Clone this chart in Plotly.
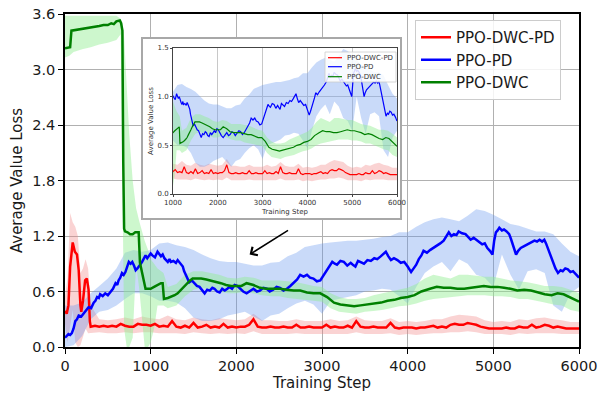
import plotly.graph_objects as go

# ---------------- data ----------------
X_TICKS = [0, 1000, 2000, 3000, 4000, 5000, 6000]
Y_TICKS = [0.0, 0.6, 1.2, 1.8, 2.4, 3.0, 3.6]
Y_TICK_TEXT = ["0.0", "0.6", "1.2", "1.8", "2.4", "3.0", "3.6"]
INSET_X_TICKS = [1000, 2000, 3000, 4000, 5000, 6000]
INSET_Y_TICKS = [0.0, 0.5, 1.0, 1.5]
INSET_Y_TICK_TEXT = ["0.0", "0.5", "1.0", "1.5"]

SERIES_NAMES = ["PPO-DWC-PD", "PPO-PD", "PPO-DWC"]

# PPO-DWC-PD (red)
RED_STEP = [0, 20, 40, 60, 90, 115, 140, 160, 180, 190, 210, 235, 255, 275, 290, 300] + list(range(350, 6001, 50))
RED_VAL = [0.39, 0.36, 0.45, 0.87, 1.13, 1.03, 1.00, 0.83, 0.45, 0.38, 0.50, 0.72, 0.74, 0.62, 0.28, 0.22,
           0.23, 0.22, 0.23, 0.22, 0.23, 0.22, 0.25, 0.23, 0.22, 0.22,
           0.25, 0.24, 0.24, 0.23, 0.25, 0.22, 0.23, 0.22, 0.28, 0.22,
           0.21, 0.23, 0.21, 0.26, 0.21, 0.22, 0.24, 0.21, 0.22, 0.21,
           0.25, 0.21, 0.22, 0.21, 0.22, 0.22, 0.24, 0.30, 0.22, 0.21,
           0.21, 0.22, 0.21, 0.21, 0.22, 0.21, 0.21, 0.24, 0.21, 0.21,
           0.22, 0.21, 0.21, 0.21, 0.24, 0.21, 0.22, 0.21, 0.21, 0.23,
           0.21, 0.28, 0.22, 0.21, 0.21, 0.22, 0.21, 0.21, 0.21, 0.26,
           0.21, 0.20, 0.21, 0.21, 0.21, 0.20, 0.21, 0.21, 0.22, 0.23,
           0.21, 0.22, 0.21, 0.24, 0.25, 0.24, 0.24, 0.26, 0.25, 0.24,
           0.22, 0.21, 0.20, 0.20, 0.20, 0.20, 0.21, 0.20, 0.20, 0.22,
           0.21, 0.21, 0.24, 0.21, 0.22, 0.24, 0.23, 0.21, 0.22, 0.21,
           0.20, 0.20, 0.20, 0.20]
RED_BAND_STEP = [0, 30, 60, 90, 120, 150, 180, 210, 240, 270, 300] + list(range(400, 6001, 100))
RED_UP = [0.55, 0.75, 1.45, 1.35, 1.30, 1.20, 0.80, 0.85, 0.95, 0.85, 0.45,
          0.30, 0.29, 0.30, 0.32, 0.30, 0.33, 0.31, 0.30, 0.34, 0.30,
          0.29, 0.32, 0.30, 0.29, 0.31, 0.30, 0.29, 0.30, 0.36, 0.29,
          0.29, 0.28, 0.28, 0.30, 0.28, 0.28, 0.28, 0.30, 0.28, 0.29,
          0.33, 0.29, 0.28, 0.28, 0.31, 0.27, 0.28, 0.27, 0.28, 0.30,
          0.30, 0.33, 0.35, 0.34, 0.33, 0.29, 0.27, 0.28, 0.27, 0.30,
          0.29, 0.31, 0.32, 0.30, 0.29, 0.27, 0.27]
RED_LO = [0.25, 0.05, 0.20, 0.40, 0.05, 0.00, 0.02, 0.10, 0.20, 0.15, 0.15,
          0.16, 0.15, 0.15, 0.16, 0.15, 0.16, 0.16, 0.15, 0.15, 0.15,
          0.14, 0.16, 0.15, 0.14, 0.15, 0.14, 0.15, 0.14, 0.17, 0.14,
          0.14, 0.14, 0.14, 0.15, 0.14, 0.14, 0.14, 0.14, 0.14, 0.14,
          0.16, 0.14, 0.14, 0.14, 0.15, 0.13, 0.14, 0.13, 0.14, 0.15,
          0.15, 0.16, 0.16, 0.17, 0.16, 0.14, 0.14, 0.14, 0.13, 0.15,
          0.14, 0.15, 0.15, 0.15, 0.14, 0.14, 0.14]

# PPO-PD (blue)
BLUE_STEP = [0, 20, 40, 60, 80, 100, 120, 140, 160, 190,
             215, 245, 275, 305, 335, 355, 375, 395, 410, 440,
             470, 500, 530, 560, 590, 610, 625, 645, 665, 685,
             705, 725, 745, 765, 785, 805, 825, 845, 865, 885,
             900, 920, 940, 960, 980, 1000, 1020, 1050, 1080, 1100,
             1120, 1140, 1160, 1180, 1200, 1220, 1235, 1265, 1295, 1315,
             1335, 1355, 1375, 1390, 1410, 1430, 1450, 1480, 1510, 1540,
             1570, 1600, 1630, 1660, 1690, 1720, 1745, 1775, 1805, 1835,
             1865, 1895, 1920, 1950, 1980, 2010, 2040, 2080, 2120, 2160,
             2200, 2240, 2275, 2315, 2355, 2390, 2430, 2470, 2510, 2550,
             2590, 2630, 2670, 2710, 2745, 2785, 2825, 2860, 2900, 2940,
             2980, 3020, 3060, 3090, 3120, 3150, 3175, 3215, 3255, 3295,
             3335, 3360, 3390, 3420, 3450, 3490, 3530, 3570, 3610, 3645,
             3685, 3715, 3745, 3775, 3805, 3840, 3880, 3920, 3960, 4000,
             4040, 4070, 4100, 4130, 4160, 4185, 4225, 4265, 4300, 4340,
             4380, 4420, 4450, 4480, 4510, 4540, 4570, 4595, 4635, 4675,
             4705, 4735, 4770, 4810, 4840, 4870, 4900, 4930, 4960, 4990,
             5010, 5030, 5050, 5070, 5100, 5125, 5155, 5185, 5205, 5225,
             5245, 5265, 5290, 5320, 5360, 5400, 5440, 5480, 5510, 5540,
             5570, 5595, 5615, 5635, 5665, 5695, 5725, 5755, 5785, 5810,
             5840, 5870, 5900, 5930, 5965, 6000]
BLUE_VAL = [0.10, 0.12, 0.14, 0.13, 0.15, 0.20, 0.28, 0.30, 0.34, 0.33,
            0.36, 0.40, 0.43, 0.42, 0.48, 0.50, 0.54, 0.53, 0.57, 0.55,
            0.58, 0.56, 0.59, 0.63, 0.69, 0.67, 0.72, 0.75, 0.80, 0.78,
            0.81, 0.86, 0.92, 0.90, 0.92, 0.88, 0.83, 0.85, 0.87, 0.90,
            0.92, 0.95, 0.99, 0.96, 0.98, 1.01, 0.99, 0.97, 1.03, 1.00,
            0.98, 1.00, 0.96, 0.94, 0.92, 0.95, 0.92, 0.93, 0.91, 0.94,
            0.92, 0.90, 0.87, 0.82, 0.78, 0.74, 0.70, 0.72, 0.69, 0.66,
            0.65, 0.61, 0.58, 0.62, 0.61, 0.64, 0.63, 0.60, 0.59, 0.63,
            0.61, 0.63, 0.65, 0.63, 0.67, 0.66, 0.63, 0.60, 0.58, 0.61,
            0.63, 0.60, 0.61, 0.64, 0.63, 0.60, 0.62, 0.65, 0.64, 0.61,
            0.63, 0.66, 0.70, 0.73, 0.78, 0.76, 0.78, 0.75, 0.74, 0.71,
            0.72, 0.78, 0.83, 0.87, 0.92, 0.90, 0.89, 0.93, 0.92, 0.88,
            0.91, 0.89, 0.87, 0.93, 0.92, 0.90, 0.94, 0.93, 0.96, 0.95,
            0.98, 1.00, 1.03, 0.98, 0.94, 0.96, 0.94, 0.91, 0.92, 0.87,
            0.81, 0.85, 0.89, 0.95, 0.99, 1.04, 1.02, 1.05, 1.07, 1.09,
            1.12, 1.15, 1.19, 1.24, 1.20, 1.22, 1.21, 1.25, 1.23, 1.22,
            1.19, 1.16, 1.18, 1.15, 1.13, 1.11, 1.12, 1.07, 1.04, 1.00,
            1.15, 1.24, 1.26, 1.29, 1.26, 1.27, 1.25, 1.22, 1.17, 1.11,
            1.05, 1.00, 1.04, 1.07, 1.09, 1.11, 1.13, 1.15, 1.14, 1.16,
            1.14, 1.16, 1.12, 1.07, 0.99, 0.91, 0.85, 0.80, 0.83, 0.82,
            0.85, 0.84, 0.81, 0.82, 0.79, 0.75]
BLUE_BAND_STEP = list(range(0, 6001, 100))
BLUE_UP = [0.45, 0.45, 0.48, 0.58, 0.66, 0.74, 0.85, 1.02, 1.05, 1.03,
           1.05, 1.12, 1.13, 1.10, 1.08, 1.05, 1.00, 0.96, 0.93, 0.92,
           0.92, 0.90, 0.88, 0.88, 0.91, 0.92, 0.98, 1.02, 1.08, 1.10,
           1.12, 1.13, 1.14, 1.15, 1.15, 1.16, 1.17, 1.19, 1.20, 1.24,
           1.24, 1.30, 1.35, 1.38, 1.40, 1.38, 1.36, 1.42, 1.49, 1.47,
           1.43, 1.38, 1.33, 1.31, 1.28, 1.25, 1.25, 1.22, 1.12, 1.03,
           0.98]
BLUE_LO = [0.00, 0.02, 0.12, 0.30, 0.38, 0.40, 0.45, 0.52, 0.58, 0.58,
           0.55, 0.50, 0.50, 0.48, 0.42, 0.32, 0.28, 0.28, 0.30, 0.34,
           0.36, 0.38, 0.33, 0.28, 0.34, 0.36, 0.42, 0.47, 0.50, 0.46,
           0.36, 0.50, 0.52, 0.54, 0.56, 0.60, 0.61, 0.63, 0.62, 0.55,
           0.47, 0.65, 0.80, 0.87, 0.92, 0.82, 0.95, 0.90, 0.78, 0.75,
           0.65, 1.00, 0.78, 0.62, 0.82, 0.84, 0.80, 0.45, 0.38, 0.58,
           0.65]

# PPO-DWC (green)
GREEN_STEP = [0, 60, 75, 150, 200, 250, 300, 350, 400, 450,
              500, 540, 570, 600, 640, 655, 670, 680, 690, 700,
              730, 760, 790, 820, 860, 875, 900, 920, 940, 970,
              1000, 1040, 1080, 1120, 1140, 1155, 1200, 1235, 1280, 1315,
              1345, 1375, 1400, 1430, 1460, 1490, 1540, 1590, 1650, 1700,
              1760, 1820, 1880, 1940, 2000, 2060, 2120, 2200, 2275, 2350,
              2430, 2510, 2590, 2670, 2745, 2825, 2900, 2980, 3060, 3140,
              3215, 3295, 3375, 3450, 3530, 3610, 3690, 3765, 3845, 3920,
              4000, 4080, 4160, 4260, 4340, 4420, 4500, 4580, 4660, 4740,
              4810, 4890, 4970, 5050, 5125, 5200, 5280, 5360, 5440, 5520,
              5600, 5680, 5750, 5820, 5870, 5940, 6000]
GREEN_VAL = [3.23, 3.24, 3.42, 3.43, 3.44, 3.45, 3.45, 3.46, 3.47, 3.48,
             3.48, 3.50, 3.49, 3.52, 3.53, 3.50, 3.42, 2.00, 1.28, 1.25,
             1.24, 1.22, 1.22, 1.24, 1.24, 0.91, 0.80, 0.72, 0.63, 0.63,
             0.63, 0.65, 0.67, 0.69, 0.69, 0.52, 0.53, 0.54, 0.56, 0.58,
             0.61, 0.63, 0.66, 0.69, 0.72, 0.74, 0.74, 0.74, 0.73, 0.72,
             0.71, 0.69, 0.67, 0.66, 0.66, 0.66, 0.69, 0.67, 0.64, 0.63,
             0.63, 0.63, 0.62, 0.61, 0.61, 0.59, 0.58, 0.58, 0.54, 0.48,
             0.46, 0.45, 0.44, 0.45, 0.46, 0.47, 0.48, 0.50, 0.51, 0.53,
             0.54, 0.56, 0.60, 0.63, 0.65, 0.64, 0.64, 0.63, 0.63, 0.64,
             0.65, 0.66, 0.65, 0.65, 0.64, 0.63, 0.61, 0.62, 0.61, 0.59,
             0.57, 0.56, 0.58, 0.57, 0.55, 0.52, 0.49]
GREEN_BAND_STEP = [0, 50, 100, 200, 300, 400, 500, 600, 650, 670, 690, 720, 750, 790, 830, 870,
                   900, 930, 970, 1000, 1040, 1080, 1150, 1200] + list(range(1300, 6001, 100))
GREEN_UP = [3.58, 3.58, 3.58, 3.58, 3.58, 3.58, 3.58, 3.58, 3.55, 3.50, 3.35, 2.80, 2.30, 1.80, 1.50, 1.35,
            1.25, 1.15, 1.05, 0.95, 0.90, 0.85, 0.80, 0.65,
            0.68, 0.78, 0.82, 0.82, 0.80, 0.78, 0.75, 0.74, 0.76, 0.75,
            0.72, 0.72, 0.72, 0.71, 0.70, 0.68, 0.66, 0.65, 0.58, 0.54,
            0.52, 0.52, 0.53, 0.56, 0.58, 0.60, 0.62, 0.64, 0.68, 0.74,
            0.78, 0.76, 0.74, 0.78, 0.78, 0.77, 0.76, 0.76, 0.74, 0.72,
            0.71, 0.70, 0.68, 0.66, 0.66, 0.65, 0.62, 0.58]
GREEN_LO = [3.13, 3.15, 3.19, 3.22, 3.24, 3.27, 3.29, 3.32, 3.38, 2.00, 0.20, 0.00, 0.00, 0.10, 0.90, 0.60,
            0.30, 0.00, 0.00, 0.05, 0.20, 0.45, 0.45, 0.42,
            0.45, 0.55, 0.62, 0.64, 0.62, 0.60, 0.58, 0.58, 0.60, 0.58,
            0.56, 0.55, 0.55, 0.53, 0.52, 0.51, 0.50, 0.49, 0.42, 0.38,
            0.37, 0.36, 0.38, 0.39, 0.40, 0.42, 0.44, 0.45, 0.47, 0.50,
            0.52, 0.53, 0.54, 0.55, 0.56, 0.56, 0.56, 0.55, 0.55, 0.54,
            0.52, 0.52, 0.50, 0.48, 0.46, 0.45, 0.40, 0.38]

# arrow annotation (data coords): head and tail
ARROW_HEAD = (2155, 1.00)
ARROW_TAIL = (2621, 1.27)

# ---------------- style ----------------
FONT = "DejaVu Sans"
TXT = "#1a1a1a"
LINE_COLORS = ["#ff0000", "#0000ff", "#008000"]
FILL_COLORS = ["rgba(240,128,128,0.35)", "rgba(100,149,237,0.35)", "rgba(144,238,144,0.45)"]

SERIES = [
    (RED_STEP, RED_VAL, RED_BAND_STEP, RED_UP, RED_LO),
    (BLUE_STEP, BLUE_VAL, BLUE_BAND_STEP, BLUE_UP, BLUE_LO),
    (GREEN_STEP, GREEN_VAL, GREEN_BAND_STEP, GREEN_UP, GREEN_LO),
]
for s in SERIES:
    assert len(s[0]) == len(s[1]), (len(s[0]), len(s[1]))
    assert len(s[2]) == len(s[3]) == len(s[4]), (len(s[2]), len(s[3]), len(s[4]))

fig = go.Figure()


def add_set(xa, ya, lw, show_legend):
    for (bx, up, lo), fc in zip([(s[2], s[3], s[4]) for s in SERIES], FILL_COLORS):
        fig.add_trace(go.Scatter(
            x=list(bx) + list(bx)[::-1], y=list(up) + list(lo)[::-1],
            fill="toself", fillcolor=fc, line=dict(width=0), mode="lines",
            hoverinfo="skip", showlegend=False, xaxis=xa, yaxis=ya))
    for s, name, c in zip(SERIES, SERIES_NAMES, LINE_COLORS):
        fig.add_trace(go.Scatter(
            x=s[0], y=s[1], mode="lines", name=name,
            line=dict(color=c, width=lw), showlegend=show_legend,
            xaxis=xa, yaxis=ya))


# main
add_set("x", "y", 2.5, True)

# inset background box (x2/y2)
fig.add_trace(go.Scatter(x=[0, 1, 1, 0, 0], y=[0, 0, 1, 1, 0], fill="toself",
                         fillcolor="white", line=dict(width=0), mode="lines",
                         hoverinfo="skip", showlegend=False, xaxis="x2", yaxis="y2"))

# inset
add_set("x3", "y3", 1.2, False)

# plot-area geometry in page pixels
PL, PR, PT, PB = 65, 579, 14, 347


def px_to_paper_x(px):
    return (px - PL) / (PR - PL)


def px_to_paper_y(py):
    return (PB - py) / (PB - PT)


axis_common = dict(showline=True, linecolor="black", linewidth=1.5, mirror=True,
                   ticks="outside", ticklen=5, tickwidth=1.2, tickcolor="black",
                   showgrid=True, gridcolor="#b0b0b0", gridwidth=1, zeroline=False,
                   automargin=False, ticklabeloverflow="allow",
                   tickfont=dict(family=FONT, size=14.5, color=TXT))

box_axis = dict(range=[0, 1], showline=True, linecolor="#a8a8a8", linewidth=1.5, mirror=True,
                showgrid=False, zeroline=False, showticklabels=False, ticks="", automargin=False)

inset_axis = dict(showline=True, linecolor="#444444", linewidth=0.8, mirror=True,
                  ticks="outside", ticklen=2, tickwidth=0.8, tickcolor="#444444",
                  showgrid=True, gridcolor="#c8c8c8", gridwidth=0.8, zeroline=False,
                  automargin=False, ticklabeloverflow="allow",
                  tickfont=dict(family=FONT, size=7, color="#333333"))

# inset legend (small key inside the inset axes)
inset_key_rows = [57.7, 66.7, 76.7]
shapes = [dict(type="rect", xref="paper", yref="paper",
               x0=px_to_paper_x(325), x1=px_to_paper_x(396),
               y0=px_to_paper_y(82), y1=px_to_paper_y(52),
               fillcolor="rgba(255,255,255,0.85)", line=dict(color="#cccccc", width=0.8),
               layer="above")]
annotations = []
for row, name, c in zip(inset_key_rows, SERIES_NAMES, LINE_COLORS):
    shapes.append(dict(type="line", xref="paper", yref="paper",
                       x0=px_to_paper_x(328), x1=px_to_paper_x(342),
                       y0=px_to_paper_y(row), y1=px_to_paper_y(row),
                       line=dict(color=c, width=1.2), layer="above"))
    annotations.append(dict(x=px_to_paper_x(345), y=px_to_paper_y(row), xref="paper", yref="paper",
                            text=name, showarrow=False, xanchor="left", yanchor="middle",
                            font=dict(family=FONT, size=7, color="#333333")))

annotations.append(dict(x=ARROW_HEAD[0], y=ARROW_HEAD[1], ax=ARROW_TAIL[0], ay=ARROW_TAIL[1],
                        xref="x", yref="y", axref="x", ayref="y", text="", showarrow=True,
                        arrowhead=4, arrowsize=1.3, arrowwidth=1.5, arrowcolor="black"))

fig.update_layout(
    width=598, height=396,
    margin=dict(l=PL, r=598 - PR, t=PT, b=396 - PB, autoexpand=False),
    paper_bgcolor="white", plot_bgcolor="white",
    font=dict(family=FONT, color=TXT),
    xaxis=dict(domain=[0, 1], range=[0, 6000], tickvals=X_TICKS, anchor="y",
               title=dict(text="Training Step", font=dict(family=FONT, size=15, color=TXT), standoff=4),
               **axis_common),
    yaxis=dict(domain=[0, 1], range=[0, 3.6], tickvals=Y_TICKS, ticktext=Y_TICK_TEXT, anchor="x",
               title=dict(text="Average Value Loss", font=dict(family=FONT, size=15, color=TXT), standoff=6),
               **axis_common),
    xaxis2=dict(domain=[px_to_paper_x(143), px_to_paper_x(400)], anchor="y2", **box_axis),
    yaxis2=dict(domain=[px_to_paper_y(218), px_to_paper_y(39)], anchor="x2", **box_axis),
    xaxis3=dict(domain=[px_to_paper_x(173), px_to_paper_x(397)], range=[1000, 6000],
                tickvals=INSET_X_TICKS, anchor="y3",
                title=dict(text="Training Step", font=dict(family=FONT, size=7, color="#333333"), standoff=2),
                **inset_axis),
    yaxis3=dict(domain=[px_to_paper_y(194), px_to_paper_y(48)], range=[0, 1.5], tickvals=INSET_Y_TICKS,
                ticktext=INSET_Y_TICK_TEXT, anchor="x3",
                title=dict(text="Average Value Loss", font=dict(family=FONT, size=7, color="#333333"), standoff=3),
                **inset_axis),
    legend=dict(x=px_to_paper_x(415), y=px_to_paper_y(20), xanchor="left", yanchor="top",
                bgcolor="rgba(255,255,255,0.85)", bordercolor="#cccccc", borderwidth=1,
                font=dict(family=FONT, size=15, color=TXT)),
    shapes=shapes,
    annotations=annotations,
    showlegend=True,
)

fig.write_html("out.html")
